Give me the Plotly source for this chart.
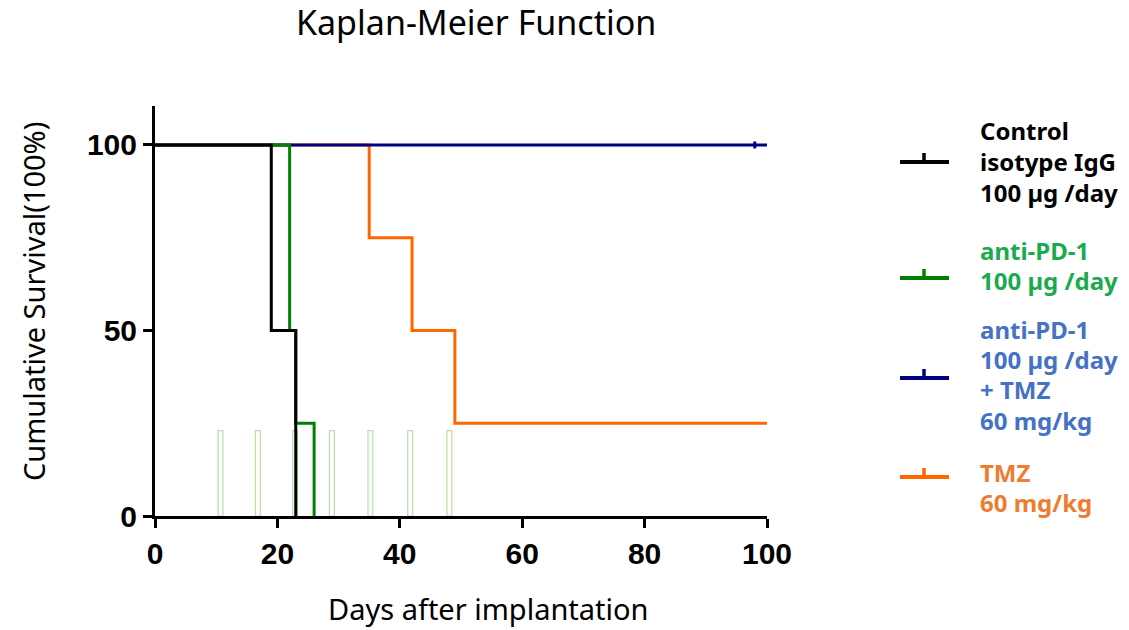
import plotly.graph_objects as go

# ---------------- data ----------------
control_days = [0, 19, 23]
control_surv = [100, 50, 0]

pd1_days = [0, 22, 23, 26]
pd1_surv = [100, 50, 25, 0]

combo_days = [0, 100]
combo_surv = [100, 100]
combo_censor_days = [98]
combo_censor_surv = [100]

tmz_days = [0, 35, 42, 49, 100]
tmz_surv = [100, 75, 50, 25, 25]

treat_days = [10.7, 16.8, 22.9, 28.9, 35.2, 41.7, 48.1]
treat_height = [23, 23, 23, 23, 23, 23, 23]

x_ticks = [0, 20, 40, 60, 80, 100]
y_ticks = [0, 50, 100]

legend_names = [
    ["Control", "isotype IgG", "100 µg /day"],
    ["anti-PD-1", "100 µg /day"],
    ["anti-PD-1", "100 µg /day", "+ TMZ", "60 mg/kg"],
    ["TMZ", "60 mg/kg"],
]

# ---------------- styling ----------------
BLACK = "#000000"
GREEN = "#008000"
NAVY = "#000080"
ORANGE = "#ff6600"
line_colors = [BLACK, GREEN, NAVY, ORANGE]
text_colors = ["#000000", "#1aab4e", "#4472c4", "#ed7d31"]
FONT = "Noto Sans"

W, H = 1129, 630
L, R, T, B = 155, 362, 106, 114
PW, PH = W - L - R, H - T - B


def px(xp):
    return (xp - L) / PW


def py(yp):
    return (H - B - yp) / PH


fig = go.Figure()

fig.add_trace(go.Bar(
    x=treat_days, y=treat_height, width=0.8,
    marker=dict(color="rgba(0,0,0,0)", line=dict(color="#b9dfa6", width=1.2)),
    showlegend=False, hoverinfo="skip",
))

fig.add_trace(go.Scatter(x=tmz_days, y=tmz_surv, mode="lines", line_shape="hv",
                         line=dict(color=ORANGE, width=3), showlegend=False))
fig.add_trace(go.Scatter(x=combo_days, y=combo_surv, mode="lines", line_shape="hv",
                         line=dict(color=NAVY, width=3), showlegend=False))
fig.add_trace(go.Scatter(x=combo_censor_days, y=combo_censor_surv, mode="markers",
                         marker=dict(symbol="line-ns", size=5,
                                     line=dict(color=NAVY, width=3)),
                         showlegend=False))
fig.add_trace(go.Scatter(x=pd1_days, y=pd1_surv, mode="lines", line_shape="hv",
                         line=dict(color=GREEN, width=3), showlegend=False))
fig.add_trace(go.Scatter(x=control_days, y=control_surv, mode="lines", line_shape="hv",
                         line=dict(color=BLACK, width=3), showlegend=False))

# ---------------- manual legend ----------------
legend_line_y = [162, 278, 378, 477]
legend_text_y = [
    [130, 161, 192],
    [250, 280],
    [329, 359, 389, 420],
    [472, 502],
]
shapes = []
annotations = []
for i, names in enumerate(legend_names):
    ly = legend_line_y[i]
    shapes.append(dict(type="line", xref="paper", yref="paper",
                       x0=px(900), x1=px(949), y0=py(ly), y1=py(ly),
                       line=dict(color=line_colors[i], width=4)))
    shapes.append(dict(type="line", xref="paper", yref="paper",
                       x0=px(924), x1=px(924), y0=py(ly), y1=py(ly - 9),
                       line=dict(color=line_colors[i], width=3.5)))
    for name, ty in zip(names, legend_text_y[i]):
        annotations.append(dict(
            text=name, xref="paper", yref="paper", x=px(978), y=py(ty),
            xanchor="left", yanchor="middle", showarrow=False,
            font=dict(family=FONT, size=24, color=text_colors[i], weight="bold"),
        ))

# titles
annotations.append(dict(text="Kaplan-Meier Function", xref="paper", yref="paper",
                        x=px(476), y=py(22), xanchor="center", yanchor="middle",
                        showarrow=False,
                        font=dict(family=FONT, size=34, color="#000")))
annotations.append(dict(text="Days after implantation", xref="paper", yref="paper",
                        x=px(488), y=py(608), xanchor="center", yanchor="middle",
                        showarrow=False,
                        font=dict(family=FONT, size=29, color="#000")))
annotations.append(dict(text="Cumulative Survival(100%)", xref="paper", yref="paper",
                        x=px(33), y=py(302), xanchor="center", yanchor="middle",
                        textangle=-90, showarrow=False,
                        font=dict(family=FONT, size=29, color="#000")))

tickfont = dict(family="Liberation Sans, Arial", size=30, color="#000", weight="bold")

fig.update_layout(
    width=W, height=H,
    margin=dict(l=L, r=R, t=T, b=B, pad=0),
    paper_bgcolor="white", plot_bgcolor="white",
    showlegend=False,
    barmode="overlay",
    shapes=shapes,
    annotations=annotations,
    xaxis=dict(range=[0, 100], tickvals=x_ticks, ticktext=[str(v) for v in x_ticks],
               showline=True, linecolor="#000", linewidth=3,
               ticks="outside", ticklen=9, tickwidth=3, tickcolor="#000",
               showgrid=False, zeroline=False, tickfont=tickfont),
    yaxis=dict(range=[0, 110.5], tickvals=y_ticks, ticktext=[str(v) for v in y_ticks],
               showline=True, linecolor="#000", linewidth=3,
               ticks="outside", ticklen=9, tickwidth=3, tickcolor="#000",
               showgrid=False, zeroline=False, tickfont=tickfont),
)

fig.write_html("out.html")
